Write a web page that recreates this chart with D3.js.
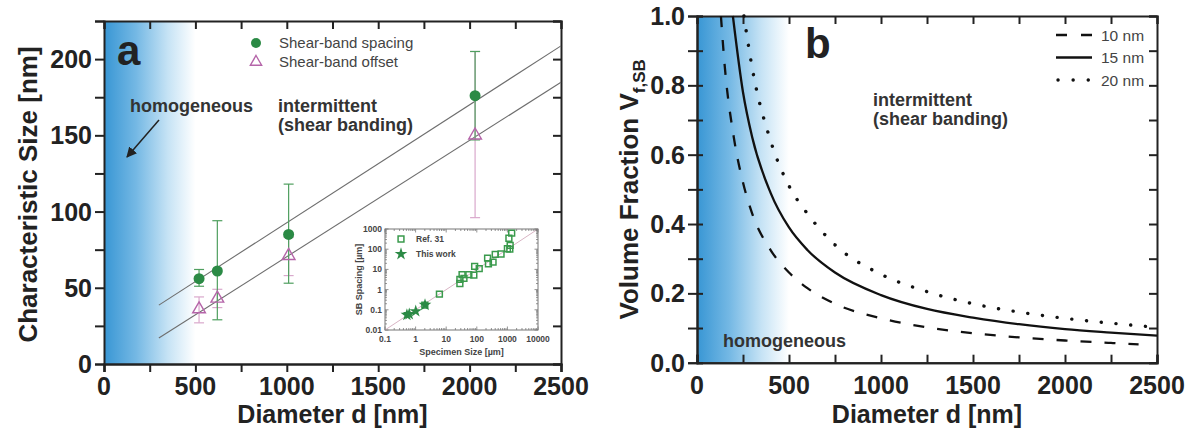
<!DOCTYPE html>
<html>
<head>
<meta charset="utf-8">
<script src="https://cdn.jsdelivr.net/npm/d3@7"></script>
<style>
  html, body { margin: 0; padding: 0; background: #fff; }
  svg { display: block; font-family: "Liberation Sans", Arial, sans-serif; }
</style>
</head>
<body>
<svg id="chart" width="1192" height="432"></svg>
<script>
// panel a: shear-band spacing / offset vs pillar diameter
var diameters = [520, 620, 1010, 2030];
var spacing = [56, 61, 85, 176];
var spacingLo = [51, 29, 53, 147];
var spacingHi = [62, 94, 118, 205];
var offset = [36, 43, 71, 150];
var offsetLo = [27, 37, 58, 96];
var offsetHi = [44, 49, 83, 205];
var fitX = [300, 2500];
var fitSpacing = [38.6, 208.7];
var fitOffset = [17, 184.8];

// inset: SB spacing vs specimen size (um)
var refSize = [2.0, 6, 28, 28, 33, 38, 55, 80, 85, 120, 225, 240, 340, 400, 620, 1000, 1200, 1230, 1120, 1380];
var refSpacing = [0.17, 0.6, 2.0, 3.2, 5.5, 3.6, 5.5, 5.2, 14, 11, 36, 19, 23, 55, 58, 105, 100, 155, 350, 620];
var workSize = [0.52, 0.62, 1.01, 2.03];
var workSpacing = [0.056, 0.061, 0.085, 0.176];
var insetLineX = [0.1, 10000];
var insetLineY = [0.01, 1000];
var insetXTicks = [0.1, 1, 10, 100, 1000, 10000];
var insetXLabels = ['0.1', '1', '10', '100', '1000', '10000'];
var insetYTicks = [0.01, 0.1, 1, 10, 100, 1000];
var insetYLabels = ['0.01', '0.1', '1', '10', '100', '1000'];

// panel b: volume fraction curves
var d10 = [130, 150, 200, 250, 300, 400, 500, 600, 750, 1000, 1250, 1500, 1750, 2000, 2250, 2400];
var v10 = [1.0, 0.86, 0.65, 0.52, 0.43, 0.325, 0.26, 0.215, 0.17, 0.128, 0.102, 0.085, 0.073, 0.064, 0.057, 0.053];
var d15 = [195, 250, 300, 400, 500, 600, 750, 1000, 1250, 1500, 1750, 2000, 2250, 2500];
var v15 = [1.0, 0.78, 0.65, 0.49, 0.39, 0.325, 0.26, 0.195, 0.155, 0.13, 0.111, 0.097, 0.087, 0.078];
var d20 = [255, 300, 400, 500, 600, 750, 1000, 1250, 1500, 1750, 2000, 2250, 2500];
var v20 = [1.0, 0.85, 0.64, 0.51, 0.43, 0.34, 0.255, 0.205, 0.17, 0.146, 0.128, 0.114, 0.102];
var curveNames = ['10 nm', '15 nm', '20 nm'];

// axes
var xTicks = [0, 500, 1000, 1500, 2000, 2500];
var xMinor = [250, 750, 1250, 1750, 2250];
var yTicksA = [0, 50, 100, 150, 200];
var yMinorA = [25, 75, 125, 175, 225];
var yTicksB = [0, 0.2, 0.4, 0.6, 0.8, 1.0];
var yMinorB = [0.1, 0.3, 0.5, 0.7, 0.9];

var svg = d3.select('#chart');
var defs = svg.append('defs');
var grad = defs.append('linearGradient').attr('id', 'blueFade').attr('x1', 0).attr('x2', 1).attr('y1', 0).attr('y2', 0);
grad.append('stop').attr('offset', 0).attr('stop-color', '#3896d4');
grad.append('stop').attr('offset', 0.35).attr('stop-color', '#74b8e4');
grad.append('stop').attr('offset', 0.7).attr('stop-color', '#c6e3f5');
grad.append('stop').attr('offset', 1).attr('stop-color', '#ffffff');
defs.append('marker').attr('id', 'arrowHead').attr('viewBox', '0 0 10 10').attr('refX', 9).attr('refY', 5)
  .attr('markerWidth', 7).attr('markerHeight', 7).attr('orient', 'auto')
  .append('path').attr('d', 'M0,0 L10,5 L0,10 z').attr('fill', '#222');

function frameAxes(g, x, y, opts) {
  // bottom
  g.append('g').attr('transform', 'translate(0,' + y.range()[0] + ')')
    .call(d3.axisBottom(x).tickValues(xTicks).tickSize(opts.bottomIn ? -8 : 8).tickFormat(function() { return ''; }));
  g.append('g').attr('transform', 'translate(0,' + y.range()[0] + ')')
    .call(d3.axisBottom(x).tickValues(xMinor).tickSize(opts.bottomIn ? -8 : 8).tickFormat(function() { return ''; }));
  g.append('g').selectAll('text').data(xTicks).enter().append('text')
    .attr('x', function(d) { return x(d); }).attr('y', y.range()[0] + 31)
    .attr('text-anchor', 'middle').attr('font-size', 25).attr('font-weight', 'bold').attr('fill', '#222')
    .text(function(d) { return d; });
  // top (inward)
  g.append('g').attr('transform', 'translate(0,' + y.range()[1] + ')')
    .call(d3.axisTop(x).tickValues(xTicks.concat(xMinor)).tickSize(-8).tickFormat(function() { return ''; }));
  // left (outward, maybe crossing)
  g.append('g').attr('transform', 'translate(' + x.range()[0] + ',0)')
    .call(d3.axisLeft(y).tickValues(opts.yTicks.concat(opts.yMinor)).tickSize(9).tickFormat(function() { return ''; }));
  if (opts.leftCross) {
    g.append('g').attr('transform', 'translate(' + x.range()[0] + ',0)')
      .call(d3.axisLeft(y).tickValues(opts.yTicks.concat(opts.yMinor)).tickSize(-6).tickFormat(function() { return ''; }));
  }
  g.append('g').selectAll('text').data(opts.yTicks).enter().append('text')
    .attr('x', x.range()[0] - 12).attr('y', function(d) { return y(d) + 9; })
    .attr('text-anchor', 'end').attr('font-size', 25).attr('font-weight', 'bold').attr('fill', '#222')
    .text(opts.yFormat);
  // right (inward)
  g.append('g').attr('transform', 'translate(' + x.range()[1] + ',0)')
    .call(d3.axisRight(y).tickValues(opts.yTicks.concat(opts.yMinor)).tickSize(-8).tickFormat(function() { return ''; }));
  g.selectAll('.domain').attr('stroke', '#222').attr('stroke-width', 2);
  g.selectAll('.tick line').attr('stroke', '#222').attr('stroke-width', 2);
}

// ---------------- panel a ----------------
var xA = d3.scaleLinear().domain([0, 2500]).range([104, 561]);
var yA = d3.scaleLinear().domain([0, 225]).range([364, 21]);
var gA = svg.append('g');
gA.append('rect').attr('x', xA(0)).attr('y', yA(225)).attr('width', xA(500) - xA(0)).attr('height', yA(0) - yA(225))
  .attr('fill', 'url(#blueFade)');

frameAxes(gA, xA, yA, { yTicks: yTicksA, yMinor: yMinorA, yFormat: function(d) { return d; } });

gA.append('text').attr('transform', 'translate(37,' + ((yA(0) + yA(225)) / 2 + 2) + ') rotate(-90)')
  .attr('text-anchor', 'middle').attr('font-size', 26).attr('font-weight', 'bold').attr('fill', '#222')
  .text('Characteristic Size [nm]');
gA.append('text').attr('x', (xA(0) + xA(2500)) / 2).attr('y', 423).attr('text-anchor', 'middle')
  .attr('font-size', 25).attr('font-weight', 'bold').attr('fill', '#222').text('Diameter d [nm]');

// fit lines
var lineA = d3.line().x(function(d) { return xA(d[0]); }).y(function(d) { return yA(d[1]); });
[fitSpacing, fitOffset].forEach(function(f) {
  gA.append('path').attr('d', lineA(d3.zip(fitX, f))).attr('fill', 'none').attr('stroke', '#6e6e6e').attr('stroke-width', 1.1);
});

function errBars(g, lo, hi, color) {
  var eb = g.append('g').attr('stroke', color).attr('stroke-width', 1.2);
  diameters.forEach(function(d, i) {
    eb.append('line').attr('x1', xA(d)).attr('x2', xA(d)).attr('y1', yA(lo[i])).attr('y2', yA(hi[i]));
    [lo[i], hi[i]].forEach(function(v) {
      eb.append('line').attr('x1', xA(d) - 5).attr('x2', xA(d) + 5).attr('y1', yA(v)).attr('y2', yA(v));
    });
  });
}
errBars(gA, offsetLo, offsetHi, '#d9a8cc');
errBars(gA, spacingLo, spacingHi, '#4f9f5f');

var tri = d3.symbol().type(d3.symbolTriangle).size(70);
gA.selectAll('path.offset').data(diameters).enter().append('path').attr('class', 'offset')
  .attr('d', tri).attr('transform', function(d, i) { return 'translate(' + xA(d) + ',' + yA(offset[i]) + ')'; })
  .attr('fill', 'none').attr('stroke', '#b565a9').attr('stroke-width', 1.4);
gA.selectAll('circle.spacing').data(diameters).enter().append('circle').attr('class', 'spacing')
  .attr('cx', function(d) { return xA(d); }).attr('cy', function(d, i) { return yA(spacing[i]); })
  .attr('r', 5.5).attr('fill', '#2b8a45');

// legend a
gA.append('circle').attr('cx', 256).attr('cy', 43).attr('r', 5).attr('fill', '#2b8a45');
gA.append('path').attr('d', tri.size(55)).attr('transform', 'translate(256,62)').attr('fill', 'none')
  .attr('stroke', '#b565a9').attr('stroke-width', 1.4);
gA.append('text').attr('x', 279).attr('y', 48).attr('font-size', 15).attr('fill', '#444').text('Shear-band spacing');
gA.append('text').attr('x', 279).attr('y', 67).attr('font-size', 15).attr('fill', '#444').text('Shear-band offset');

gA.append('text').attr('x', 117).attr('y', 65).attr('font-size', 42).attr('font-weight', 'bold').attr('fill', '#222').text('a');
gA.append('text').attr('x', 130).attr('y', 112).attr('font-size', 18).attr('font-weight', 'bold').attr('fill', '#333').text('homogeneous');
gA.append('text').attr('x', 278).attr('y', 112).attr('font-size', 18).attr('font-weight', 'bold').attr('fill', '#333').text('intermittent');
gA.append('text').attr('x', 278).attr('y', 131).attr('font-size', 18).attr('font-weight', 'bold').attr('fill', '#333').text('(shear banding)');
gA.append('line').attr('x1', 159).attr('y1', 120).attr('x2', 127).attr('y2', 157)
  .attr('stroke', '#222').attr('stroke-width', 1.5).attr('marker-end', 'url(#arrowHead)');

// inset
var xI = d3.scaleLog().domain([0.1, 10000]).range([385, 538]);
var yI = d3.scaleLog().domain([0.01, 1000]).range([330, 229]);
var gI = gA.append('g');
gI.append('rect').attr('x', 385).attr('y', 229).attr('width', 538 - 385).attr('height', 330 - 229)
  .attr('fill', '#fff').attr('stroke', '#777').attr('stroke-width', 1);
var lineI = d3.line().x(function(d) { return xI(d[0]); }).y(function(d) { return yI(d[1]); });
gI.append('path').attr('d', lineI(d3.zip(insetLineX, insetLineY))).attr('stroke', '#d8b4c4').attr('stroke-width', 1).attr('fill', 'none');
// minor log ticks
var xMinorI = [], yMinorI = [];
insetXTicks.slice(0, -1).forEach(function(t) { for (var k = 2; k < 10; k++) xMinorI.push(t * k); });
insetYTicks.slice(0, -1).forEach(function(t) { for (var k = 2; k < 10; k++) yMinorI.push(t * k); });
var tickG = gI.append('g').attr('stroke', '#777').attr('stroke-width', 0.8);
insetXTicks.concat(xMinorI).forEach(function(t) {
  var len = insetXTicks.indexOf(t) >= 0 ? 3.5 : 2;
  tickG.append('line').attr('x1', xI(t)).attr('x2', xI(t)).attr('y1', 330).attr('y2', 330 - len);
  tickG.append('line').attr('x1', xI(t)).attr('x2', xI(t)).attr('y1', 229).attr('y2', 229 + len);
});
insetYTicks.concat(yMinorI).forEach(function(t) {
  var len = insetYTicks.indexOf(t) >= 0 ? 3.5 : 2;
  tickG.append('line').attr('y1', yI(t)).attr('y2', yI(t)).attr('x1', 385).attr('x2', 385 + len);
  tickG.append('line').attr('y1', yI(t)).attr('y2', yI(t)).attr('x1', 538).attr('x2', 538 - len);
});
gI.selectAll('text.ix').data(insetXTicks).enter().append('text').attr('class', 'ix')
  .attr('x', function(d) { return xI(d); }).attr('y', 342).attr('text-anchor', 'middle')
  .attr('font-size', 8.5).attr('font-weight', 'bold').attr('fill', '#444')
  .text(function(d, i) { return insetXLabels[i]; });
gI.selectAll('text.iy').data(insetYTicks).enter().append('text').attr('class', 'iy')
  .attr('x', 382).attr('y', function(d) { return yI(d) + 3; }).attr('text-anchor', 'end')
  .attr('font-size', 8.5).attr('font-weight', 'bold').attr('fill', '#444')
  .text(function(d, i) { return insetYLabels[i]; });
gI.append('text').attr('x', (385 + 538) / 2).attr('y', 355).attr('text-anchor', 'middle')
  .attr('font-size', 9).attr('font-weight', 'bold').attr('fill', '#444').text('Specimen Size [\u00b5m]');
gI.append('text').attr('transform', 'translate(362,' + ((229 + 330) / 2) + ') rotate(-90)').attr('text-anchor', 'middle')
  .attr('font-size', 9).attr('font-weight', 'bold').attr('fill', '#444').text('SB Spacing [\u00b5m]');

var sq = d3.symbol().type(d3.symbolSquare).size(34);
var star = d3.symbol().type(d3.symbolStar).size(50);
gI.selectAll('path.ref').data(refSize).enter().append('path').attr('class', 'ref')
  .attr('d', sq).attr('transform', function(d, i) { return 'translate(' + xI(d) + ',' + yI(refSpacing[i]) + ')'; })
  .attr('fill', 'none').attr('stroke', '#3a9a4c').attr('stroke-width', 1.5);
gI.selectAll('path.work').data(workSize).enter().append('path').attr('class', 'work')
  .attr('d', star).attr('transform', function(d, i) { return 'translate(' + xI(d) + ',' + yI(workSpacing[i]) + ')'; })
  .attr('fill', '#2b8a45');
gI.append('path').attr('d', sq).attr('transform', 'translate(401,239)').attr('fill', 'none').attr('stroke', '#3a9a4c').attr('stroke-width', 1.5);
gI.append('path').attr('d', star).attr('transform', 'translate(401,254)').attr('fill', '#2b8a45');
gI.append('text').attr('x', 416).attr('y', 242).attr('font-size', 8.5).attr('font-weight', 'bold').attr('fill', '#444').text('Ref. 31');
gI.append('text').attr('x', 416).attr('y', 257).attr('font-size', 8.5).attr('font-weight', 'bold').attr('fill', '#444').text('This work');

// ---------------- panel b ----------------
var xB = d3.scaleLinear().domain([0, 2500]).range([697, 1157]);
var yB = d3.scaleLinear().domain([0, 1]).range([362.7, 16]);
var gB = svg.append('g');
gB.append('rect').attr('x', xB(0)).attr('y', yB(1)).attr('width', xB(500) - xB(0)).attr('height', yB(0) - yB(1))
  .attr('fill', 'url(#blueFade)');

frameAxes(gB, xB, yB, { yTicks: yTicksB, yMinor: yMinorB, bottomIn: true, leftCross: true, yFormat: function(d) { return d.toFixed(1); } });

var yTitle = gB.append('text').attr('transform', 'translate(638,' + ((yB(0) + yB(1)) / 2) + ') rotate(-90)')
  .attr('text-anchor', 'middle').attr('font-size', 26).attr('font-weight', 'bold').attr('fill', '#222');
yTitle.append('tspan').text('Volume Fraction V');
yTitle.append('tspan').attr('dy', 7).attr('font-size', 17).text('f,SB');
gB.append('text').attr('x', (xB(0) + xB(2500)) / 2).attr('y', 423).attr('text-anchor', 'middle')
  .attr('font-size', 25).attr('font-weight', 'bold').attr('fill', '#222').text('Diameter d [nm]');

var lineB = d3.line().curve(d3.curveMonotoneX).x(function(d) { return xB(d[0]); }).y(function(d) { return yB(d[1]); });
var styles = [
  { dash: '11,13', cap: 'butt' },
  { dash: null, cap: 'butt' },
  { dash: '0.1,14.7', cap: 'round' }
];
[[d10, v10], [d15, v15], [d20, v20]].forEach(function(c, i) {
  var p = gB.append('path').attr('d', lineB(d3.zip(c[0], c[1]))).attr('fill', 'none').attr('stroke', '#111')
    .attr('stroke-width', i === 2 ? 3.4 : 2.3).attr('stroke-linecap', styles[i].cap);
  if (styles[i].dash) p.attr('stroke-dasharray', styles[i].dash);
});

// legend b
curveNames.forEach(function(n, i) {
  var yy = 35 + i * 22.5;
  var l = gB.append('line').attr('x1', 1056).attr('x2', 1092).attr('y1', yy).attr('y2', yy).attr('stroke', '#111')
    .attr('stroke-width', i === 2 ? 3.4 : 2.3).attr('stroke-linecap', styles[i].cap);
  if (i === 0) l.attr('stroke-dasharray', '11,14');
  if (i === 2) l.attr('x1', 1058).attr('stroke-dasharray', '0.1,15');
  gB.append('text').attr('x', 1101).attr('y', yy + 5.5).attr('font-size', 15.5).attr('fill', '#444').text(n);
});

gB.append('text').attr('x', 805).attr('y', 58).attr('font-size', 42).attr('font-weight', 'bold').attr('fill', '#222').text('b');
gB.append('text').attr('x', 873).attr('y', 106).attr('font-size', 18).attr('font-weight', 'bold').attr('fill', '#333').text('intermittent');
gB.append('text').attr('x', 873).attr('y', 125).attr('font-size', 18).attr('font-weight', 'bold').attr('fill', '#333').text('(shear banding)');
gB.append('text').attr('x', 723).attr('y', 347).attr('font-size', 18).attr('font-weight', 'bold').attr('fill', '#333').text('homogeneous');
</script>
</body>
</html>
